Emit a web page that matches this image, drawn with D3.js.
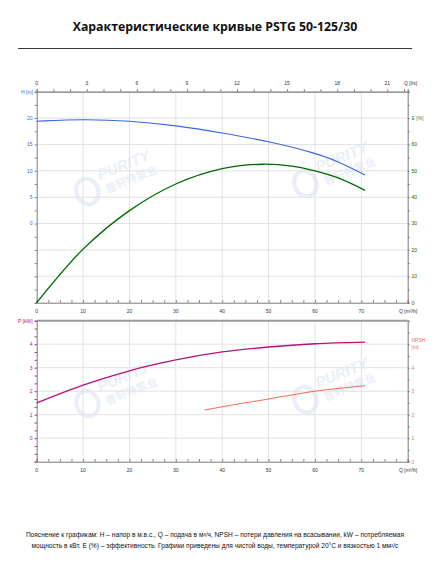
<!DOCTYPE html>
<html><head><meta charset="utf-8">
<script src="https://cdn.jsdelivr.net/npm/d3@7"></script>
<style>body{margin:0;background:#fff}svg{display:block}</style>
</head><body>
<script>
// ---- data ----
const qH = [0, 10, 20, 30, 40, 50, 60, 65, 70.8];
const headH = [19.4, 19.8, 19.5, 18.6, 17.2, 15.6, 13.4, 11.8, 9.2];
const qE = [0, 10, 20, 30, 40, 48.6, 55, 60, 65, 70.8];
const effE = [0, 20.3, 34.9, 45.0, 50.8, 52.5, 51.8, 50.0, 47.3, 42.6];
const qP = [0, 10, 20, 30, 40, 50, 60, 70.8];
const powP = [1.5, 2.26, 2.87, 3.33, 3.67, 3.88, 4.02, 4.09];
const qN = [36.2, 40, 50, 60, 70.8];
const npshN = [2.2, 2.34, 2.67, 3.0, 3.23];
const qTicksM3h = [0, 10, 20, 30, 40, 50, 60, 70];
const qTicksLs = [0, 3, 6, 9, 12, 15, 18, 21];
const hTicks = [0, 5, 10, 15, 20];
const eTicks = [0, 10, 20, 30, 40, 50, 60];
const pTicks = [0, 1, 2, 3, 4];
const nTicks = [0, 1, 2, 3, 4];
const titleText = "Характеристические кривые PSTG 50-125/30";
const note1 = "Пояснение к графикам: H – напор в м.в.с., Q – подача в м³/ч, NPSH – потери давления на всасывании, kW – потребляемая";
const note2 = "мощность в кВт. E (%) – эффективность.  Графики приведены для чистой воды, температурой 20°C и вязкостью 1 мм²/с";

const W = 443, H = 567;
const svg = d3.select("body").append("svg").attr("width", W).attr("height", H);
const F = "Liberation Sans, Arial, sans-serif";
const cH = "#3a66e0", cE = "#006a00", cP = "#b5127c", cN = "#f06e5e";
const grid = "#e2e2e2", axc = "#7a7a7a", txt = "#333";

// title
svg.append("text").attr("x", 215).attr("y", 31).attr("text-anchor", "middle")
  .attr("font-family", "Open Sans, sans-serif").attr("font-weight", "bold").attr("font-size", 12.3)
  .attr("fill", "#111").text(titleText);
svg.append("line").attr("x1", 18).attr("x2", 412).attr("y1", 48.5).attr("y2", 48.5)
  .attr("stroke", "#222").attr("stroke-width", 0.9);

const L = 36.7, R = 407.7;
const x = d3.scaleLinear().domain([0, 80]).range([L, R]);
const xls = d3.scaleLinear().domain([0, 80 / 3.6]).range([L, R]);
const T1 = 91.7, B1 = 302.7, T2 = 320.7, B2 = 461.7;
const yH = d3.scaleLinear().domain([-15, 25]).range([B1, T1]);
const yE = d3.scaleLinear().domain([0, 80]).range([B1, T1]);
const yP = d3.scaleLinear().domain([-1, 5]).range([B2, T2]);
const yN = d3.scaleLinear().domain([0, 6]).range([B2, T2]);

// watermark
function watermark(cx, cy) {
  const g = svg.append("g").attr("transform", `translate(${cx},${cy}) rotate(-22)`).attr("opacity", 0.11);
  g.append("text").attr("x", 0).attr("y", 0).attr("font-family", F).attr("font-weight", "bold")
    .attr("font-style", "italic").attr("font-size", 15).attr("fill", "#4a6fb0").text("PURITY");
  g.append("text").attr("x", 2).attr("y", 15).attr("font-family", "Noto Sans CJK SC").attr("font-weight", "bold")
    .attr("font-size", 11).attr("fill", "#4a6fb0").text("普轩特泵业");
  g.append("ellipse").attr("cx", -16).attr("cy", 6).attr("rx", 11).attr("ry", 13)
    .attr("fill", "none").attr("stroke", "#4a6fb0").attr("stroke-width", 4);
}
watermark(100, 180); watermark(318, 172); watermark(100, 392); watermark(318, 388);

// ---------- top chart ----------
const g1 = svg.append("g");
qTicksM3h.slice(1).forEach(q => g1.append("line").attr("x1", x(q)).attr("x2", x(q)).attr("y1", T1).attr("y2", B1).attr("stroke", grid));
d3.range(-10, 21, 5).forEach(h => g1.append("line").attr("x1", L).attr("x2", R).attr("y1", yH(h)).attr("y2", yH(h)).attr("stroke", grid));

// top axis l/s
g1.append("g").attr("transform", `translate(0,${T1})`)
  .call(d3.axisTop(xls).tickValues(d3.range(0, 23, 1)).tickSize(2.5).tickFormat(""))
  .call(a => { a.select(".domain").attr("stroke", axc).attr("stroke-width", 1.2); a.selectAll("line").attr("stroke", axc); });
qTicksLs.forEach(v => g1.append("text").attr("x", xls(v)).attr("y", 85).attr("text-anchor", "middle")
  .attr("font-family", F).attr("font-size", 5).attr("fill", txt).text(v));
g1.append("text").attr("x", 404).attr("y", 85).attr("font-family", F).attr("font-size", 5).attr("fill", txt).text("Q [l/s]");

// bottom axis m3/h
g1.append("g").attr("transform", `translate(0,${B1})`)
  .call(d3.axisTop(x).tickValues(d3.range(0, 80.1, 2.5)).tickSize(2.5).tickFormat(""))
  .call(a => { a.select(".domain").attr("stroke", axc); a.selectAll("line").attr("stroke", axc); });
qTicksM3h.forEach(v => g1.append("text").attr("x", x(v)).attr("y", 313).attr("text-anchor", "middle")
  .attr("font-family", F).attr("font-size", 5).attr("fill", txt).text(v));
g1.append("text").attr("x", 399).attr("y", 313).attr("font-family", F).attr("font-size", 5).attr("fill", txt).text("Q [m³/h]");

// left H axis
g1.append("g").attr("transform", `translate(${L},0)`)
  .call(d3.axisLeft(yH).tickValues(d3.range(-15, 25.1, 2.5)).tickSize(2).tickFormat(""))
  .call(a => { a.select(".domain").attr("stroke", axc); a.selectAll("line").attr("stroke", axc); });
hTicks.forEach(v => g1.append("text").attr("x", 32.5).attr("y", yH(v) + 1.8).attr("text-anchor", "end")
  .attr("font-family", F).attr("font-size", 5).attr("fill", cH).text(v));
g1.append("text").attr("x", 21).attr("y", 94).attr("font-family", F).attr("font-size", 5).attr("fill", cH).text("H [m]");

// right E axis
g1.append("g").attr("transform", `translate(${R},0)`)
  .call(d3.axisRight(yE).tickValues(d3.range(0, 80.1, 5)).tickSize(2).tickFormat(""))
  .call(a => { a.select(".domain").attr("stroke", axc); a.selectAll("line").attr("stroke", axc); });
eTicks.forEach(v => g1.append("text").attr("x", 411.5).attr("y", yE(v) + 1.8)
  .attr("font-family", F).attr("font-size", 5).attr("fill", cE).text(v));
g1.append("text").attr("x", 411.5).attr("y", yE(70) + 1.8).attr("font-family", F).attr("font-size", 5).attr("fill", "#3a8a3a").text("E [%]");

const curve = d3.curveMonotoneX;
g1.append("path").datum(qH.map((q, i) => [q, headH[i]]))
  .attr("d", d3.line().x(d => x(d[0])).y(d => yH(d[1])).curve(d3.curveBasis))
  .attr("fill", "none").attr("stroke", cH).attr("stroke-width", 1.1);
g1.append("path").datum(qE.map((q, i) => [q, effE[i]]))
  .attr("d", d3.line().x(d => x(d[0])).y(d => yE(d[1])).curve(d3.curveCatmullRom.alpha(0.5)))
  .attr("fill", "none").attr("stroke", cE).attr("stroke-width", 1.3);

// ---------- bottom chart ----------
const g2 = svg.append("g");
qTicksM3h.slice(1).forEach(q => g2.append("line").attr("x1", x(q)).attr("x2", x(q)).attr("y1", T2).attr("y2", B2).attr("stroke", grid));
pTicks.forEach(p => g2.append("line").attr("x1", L).attr("x2", R).attr("y1", yP(p)).attr("y2", yP(p)).attr("stroke", grid));
g2.append("line").attr("x1", L).attr("x2", R).attr("y1", T2).attr("y2", T2).attr("stroke", "#9a9a9a").attr("stroke-width", 2);

g2.append("g").attr("transform", `translate(0,${B2})`)
  .call(d3.axisTop(x).tickValues(d3.range(0, 80.1, 2.5)).tickSize(2.5).tickFormat(""))
  .call(a => { a.select(".domain").attr("stroke", axc); a.selectAll("line").attr("stroke", axc); });
qTicksM3h.forEach(v => g2.append("text").attr("x", x(v)).attr("y", 472).attr("text-anchor", "middle")
  .attr("font-family", F).attr("font-size", 5).attr("fill", txt).text(v));
g2.append("text").attr("x", 399).attr("y", 472).attr("font-family", F).attr("font-size", 5).attr("fill", txt).text("Q [m³/h]");

g2.append("g").attr("transform", `translate(${L},0)`)
  .call(d3.axisLeft(yP).tickValues(d3.range(-1, 5.01, 1 / 3)).tickSize(2).tickFormat(""))
  .call(a => { a.select(".domain").attr("stroke", axc); a.selectAll("line").attr("stroke", cP); });
pTicks.forEach(v => g2.append("text").attr("x", 32.5).attr("y", yP(v) + 1.8).attr("text-anchor", "end")
  .attr("font-family", F).attr("font-size", 5).attr("fill", cP).text(v));
g2.append("text").attr("x", 18).attr("y", 323).attr("font-family", F).attr("font-size", 5).attr("fill", cP).text("P [kW]");

g2.append("g").attr("transform", `translate(${R},0)`)
  .call(d3.axisRight(yN).tickValues(d3.range(0, 6.01, 0.5)).tickSize(2).tickFormat(""))
  .call(a => { a.select(".domain").attr("stroke", axc); a.selectAll("line").attr("stroke", axc); });
nTicks.forEach(v => g2.append("text").attr("x", 411.5).attr("y", yN(v) + 1.8)
  .attr("font-family", F).attr("font-size", 5).attr("fill", cN).text(v));
g2.append("text").attr("x", 411.5).attr("y", 342).attr("font-family", F).attr("font-size", 5).attr("fill", cN).text("NPSH");
g2.append("text").attr("x", 411.5).attr("y", 348.5).attr("font-family", F).attr("font-size", 5).attr("fill", cN).text("[m]");

g2.append("path").datum(qP.map((q, i) => [q, powP[i]]))
  .attr("d", d3.line().x(d => x(d[0])).y(d => yP(d[1])).curve(d3.curveMonotoneX))
  .attr("fill", "none").attr("stroke", cP).attr("stroke-width", 1.3);
g2.append("path").datum(qN.map((q, i) => [q, npshN[i]]))
  .attr("d", d3.line().x(d => x(d[0])).y(d => yN(d[1])).curve(d3.curveMonotoneX))
  .attr("fill", "none").attr("stroke", cN).attr("stroke-width", 1.1);

// footnote
svg.append("text").attr("x", 215).attr("y", 537).attr("text-anchor", "middle")
  .attr("font-family", F).attr("font-size", 6.6).attr("fill", "#111").text(note1);
svg.append("text").attr("x", 215).attr("y", 548).attr("text-anchor", "middle")
  .attr("font-family", F).attr("font-size", 6.6).attr("fill", "#111").text(note2);
</script>
</body></html>
